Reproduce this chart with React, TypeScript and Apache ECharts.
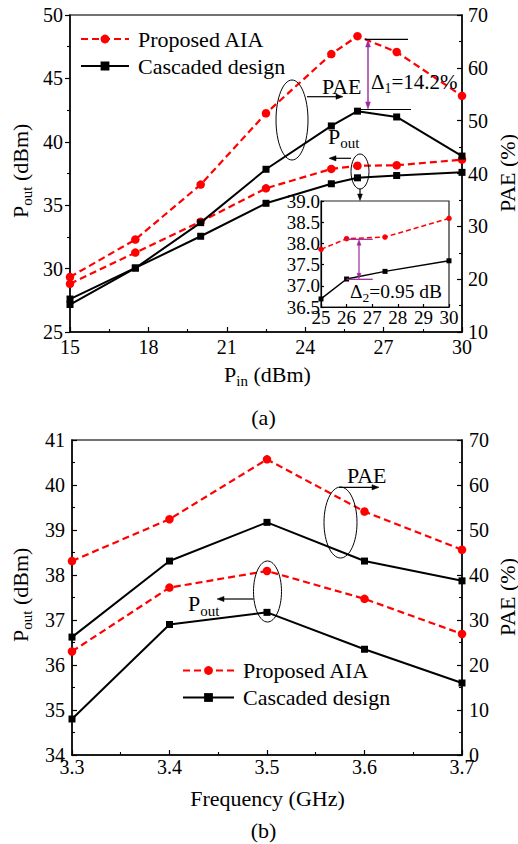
import React, { useEffect, useRef } from "react";
import * as echarts from "echarts";

// (a) output power and PAE versus input power at the centre frequency
const pinDbm = [15, 17.5, 20, 22.5, 25, 26, 27.5, 30];
const poutAiaPin = [28.8, 31.26, 33.7, 36.33, 37.86, 38.11, 38.15, 38.59];
const poutCascadedPin = [27.6, 30.05, 32.55, 35.15, 36.69, 37.16, 37.34, 37.59];
const paeAiaPin = [20.4, 27.5, 37.9, 51.4, 62.6, 66.0, 63.0, 54.7];
const paeCascadedPin = [15.2, 22.1, 30.7, 40.8, 49.0, 51.8, 50.7, 43.3];

// (b) output power and PAE versus frequency
const freqGhz = [3.3, 3.4, 3.5, 3.6, 3.7];
const poutAiaFreq = [36.3, 37.72, 38.09, 37.47, 36.69];
const poutCascadedFreq = [34.8, 36.9, 37.17, 36.35, 35.6];
const paeAiaFreq = [43.1, 52.4, 65.7, 54.1, 45.6];
const paeCascadedFreq = [26.2, 43.1, 51.7, 43.1, 38.7];

// zoomed inset of (a) starts here
const insetFrom = 25;

const seriesNames = ["Proposed AIA", "Cascaded design"];

const FONT = '"Liberation Serif", "Times New Roman", serif';
const RED = "#ff0000";
const PURPLE = "#9c2a9c";

const pairs = (xs: number[], ys: number[]) => xs.map((x, i) => [x, ys[i]]);
const insetPairs = (ys: number[]) =>
  pinDbm.map((x, i) => [x, ys[i]]).filter((p) => p[0] >= insetFrom);

function redSeries(data: number[][], xi: number, yi: number, size: number, width: number) {
  return {
    type: "line",
    name: seriesNames[0],
    data,
    xAxisIndex: xi,
    yAxisIndex: yi,
    symbol: "circle",
    symbolSize: size,
    itemStyle: { color: RED },
    lineStyle: { color: RED, width, type: [7, 4] },
    z: 3,
  };
}

function blackSeries(data: number[][], xi: number, yi: number, size: number, width: number) {
  return {
    type: "line",
    name: seriesNames[1],
    data,
    xAxisIndex: xi,
    yAxisIndex: yi,
    symbol: "rect",
    symbolSize: size,
    itemStyle: { color: "#000" },
    lineStyle: { color: "#000", width },
    z: 4,
  };
}

function valueAxis(o: any) {
  const fs = o.fontSize ?? 20;
  return {
    type: "value",
    gridIndex: o.grid,
    position: o.position,
    min: o.min,
    max: o.max,
    interval: o.interval,
    splitLine: { show: false },
    axisLine: { show: true, onZero: false, lineStyle: { color: "#000", width: o.lineWidth ?? 1.5 } },
    axisTick: { show: true, inside: o.inside, length: o.tick ?? 5, lineStyle: { color: "#000", width: 1.2 } },
    minorTick: { show: o.minor ?? true, splitNumber: 2, length: 3, lineStyle: { color: "#000", width: 1.1 } },
    axisLabel: {
      color: "#000",
      fontFamily: FONT,
      fontSize: fs,
      margin: o.margin,
      formatter: o.formatter,
    },
  };
}

function arrowHead(x: number, y: number, dx: number, dy: number, color: string, len = 7, half = 2.6) {
  const bx = x - dx * len;
  const by = y - dy * len;
  const px = -dy * half;
  const py = dx * half;
  return {
    type: "polygon",
    z: 100,
    shape: { points: [[x, y], [bx + px, by + py], [bx - px, by - py]] },
    style: { fill: color, stroke: color, lineWidth: 0.5 },
  };
}

function segment(x1: number, y1: number, x2: number, y2: number, color = "#000", w = 1.2) {
  return { type: "line", z: 100, shape: { x1, y1, x2, y2 }, style: { stroke: color, lineWidth: w } };
}

function ellipse(cx: number, cy: number, rx: number, ry: number) {
  return {
    type: "ellipse",
    z: 100,
    shape: { cx, cy, rx, ry },
    style: { fill: "none", stroke: "#000", lineWidth: 1 },
  };
}

// left-anchored text with a subscript and an optional trailing part
function subText(
  x: number,
  y: number,
  main: string,
  sub: string,
  rest: string,
  size: number,
  subSize: number,
  rotation = 0
) {
  const pad = Math.round(size * 0.62);
  return {
    type: "text",
    z: 100,
    x,
    y,
    rotation,
    style: {
      text: `{m|${main}}` + (sub ? `{s|${sub}}` : "") + (rest ? `{m|${rest}}` : ""),
      align: "left",
      verticalAlign: "middle",
      rich: {
        m: { fontSize: size, fontFamily: FONT, fill: "#000", align: "left" },
        s: { fontSize: subSize, fontFamily: FONT, fill: "#000", align: "left", padding: [pad, 0, 0, 0] },
      },
    },
  };
}

function plainText(x: number, y: number, text: string, size: number, align = "center", rotation = 0) {
  return {
    type: "text",
    z: 100,
    x,
    y,
    rotation,
    style: { text, fontSize: size, fontFamily: FONT, fill: "#000", align, verticalAlign: "middle" },
  };
}

function legendAt(left: number, top: number, itemWidth: number) {
  return {
    left,
    top,
    orient: "vertical",
    padding: 0,
    itemWidth,
    itemHeight: 11,
    itemGap: 5,
    selectedMode: false,
    data: seriesNames,
    textStyle: { fontSize: 22, fontFamily: FONT, color: "#000", padding: [0, 0, 0, 4] },
  };
}

export default function App() {
  const ref = useRef<HTMLDivElement>(null);

  useEffect(() => {
    if (!ref.current) return;
    const chart = echarts.init(ref.current, undefined, { renderer: "svg" });

    const up = Math.PI / 2;
    const graphic: any[] = [
      // ---- panel (a) ----
      ellipse(292, 120, 16, 40),
      segment(307, 96.7, 336, 96.7),
      arrowHead(343, 96.7, 1, 0, "#000"),
      plainText(322, 86, "PAE", 22, "left"),
      ellipse(360, 171.5, 9, 17.5),
      segment(351, 158.3, 336, 158.3),
      arrowHead(329, 158.3, -1, 0, "#000"),
      subText(328, 136, "P", "out", "", 22, 15),
      segment(360, 189, 360, 194),
      arrowHead(360, 200.5, 0, 1, "#000", 6.5, 2.4),
      // Δ1 bracket between the PAE peaks
      segment(365, 39.3, 408, 39.3, "#000", 1.2),
      segment(358, 109.5, 411, 109.5, "#000", 1.2),
      segment(368, 46, 368, 103, PURPLE, 1.4),
      arrowHead(368, 40, 0, -1, PURPLE, 7, 2.4),
      arrowHead(368, 109, 0, 1, PURPLE, 7, 2.4),
      subText(371, 81.5, "\u0394", "1", "=14.2%", 21, 14),
      // Δ2 bracket inside the inset
      segment(346.5, 239.3, 372.7, 239.3, PURPLE, 1.3),
      segment(346.5, 279.3, 372.7, 279.3, PURPLE, 1.3),
      segment(359, 244, 359, 274.5, PURPLE, 1.2),
      arrowHead(359, 239.8, 0, -1, PURPLE, 5.5, 2),
      arrowHead(359, 278.8, 0, 1, PURPLE, 5.5, 2),
      subText(350, 291, "\u0394", "2", "=0.95 dB", 19.5, 13.5),
      // axis titles (a)
      subText(20, 218, "P", "out", " (dBm)", 22, 15, up),
      plainText(507, 173, "PAE (%)", 22, "center", up),
      subText(224, 374, "P", "in", " (dBm)", 22, 15),
      plainText(263.5, 417, "(a)", 22, "center"),

      // ---- panel (b) ----
      ellipse(340.5, 522.5, 16.5, 35.5),
      segment(339, 487.3, 372, 487.3),
      arrowHead(379, 487.3, 1, 0, "#000"),
      plainText(347, 475.5, "PAE", 22, "left"),
      ellipse(267.5, 591.5, 14, 30.5),
      segment(253.5, 599, 224, 599),
      arrowHead(217, 599, -1, 0, "#000"),
      subText(188, 603.5, "P", "out", "", 22, 15),
      subText(20, 642, "P", "out", " (dBm)", 22, 15, up),
      plainText(507, 597, "PAE (%)", 22, "center", up),
      plainText(267.5, 798.5, "Frequency (GHz)", 22, "center"),
      plainText(263.5, 830, "(b)", 22, "center"),
    ];

    chart.setOption({
      animation: false,
      backgroundColor: "#fff",
      textStyle: { fontFamily: FONT },
      grid: [
        { left: 70, top: 15, width: 392, height: 317, show: true, borderColor: "#444", borderWidth: 1.5, backgroundColor: "transparent" },
        { left: 321, top: 201, width: 128, height: 106, show: true, borderColor: "#222", borderWidth: 1.2, backgroundColor: "#fff", z: 5 },
        { left: 72, top: 440, width: 390, height: 315, show: true, borderColor: "#444", borderWidth: 1.5, backgroundColor: "transparent" },
      ],
      xAxis: [
        valueAxis({ grid: 0, position: "bottom", min: 15, max: 30, interval: 3, inside: true, margin: 5 }),
        { ...valueAxis({ grid: 1, position: "bottom", min: 25, max: 30, interval: 1, inside: true, tick: 3, minor: false, fontSize: 19, margin: 1, lineWidth: 1.2 }), z: 6 },
        valueAxis({ grid: 2, position: "bottom", min: 3.3, max: 3.7, interval: 0.1, inside: true, margin: 2, formatter: (v: number) => v.toFixed(1) }),
      ],
      yAxis: [
        valueAxis({ grid: 0, position: "left", min: 25, max: 50, interval: 5, inside: false, margin: 7 }),
        valueAxis({ grid: 0, position: "right", min: 10, max: 70, interval: 10, inside: true, margin: 6 }),
        { ...valueAxis({ grid: 1, position: "left", min: 36.5, max: 39, interval: 0.5, inside: true, tick: 3, minor: false, fontSize: 19, margin: 1, lineWidth: 1.2, formatter: (v: number) => v.toFixed(1) }), z: 6 },
        valueAxis({ grid: 2, position: "left", min: 34, max: 41, interval: 1, inside: true, margin: 7 }),
        valueAxis({ grid: 2, position: "right", min: 0, max: 70, interval: 10, inside: true, margin: 7 }),
      ],
      legend: [legendAt(80, 28, 48), legendAt(182, 659.5, 51)],
      series: [
        // (a)
        redSeries(pairs(pinDbm, paeAiaPin), 0, 1, 8.5, 2.2),
        blackSeries(pairs(pinDbm, paeCascadedPin), 0, 1, 7, 2),
        redSeries(pairs(pinDbm, poutAiaPin), 0, 0, 8.5, 2.2),
        blackSeries(pairs(pinDbm, poutCascadedPin), 0, 0, 7, 2),
        // inset
        { ...redSeries(insetPairs(poutAiaPin), 1, 2, 5.5, 1.5), lineStyle: { color: RED, width: 1.5, type: [5, 3] }, z: 7 },
        { ...blackSeries(insetPairs(poutCascadedPin), 1, 2, 5, 1.5), z: 8 },
        // (b)
        redSeries(pairs(freqGhz, paeAiaFreq), 2, 4, 8.5, 2.2),
        blackSeries(pairs(freqGhz, paeCascadedFreq), 2, 4, 7, 2),
        redSeries(pairs(freqGhz, poutAiaFreq), 2, 3, 8.5, 2.2),
        blackSeries(pairs(freqGhz, poutCascadedFreq), 2, 3, 7, 2),
      ],
      graphic,
    });

    return () => chart.dispose();
  }, []);

  return (
    <div
      ref={ref}
      style={{ position: "fixed", left: 0, top: 0, width: 518, height: 844, background: "#fff" }}
    />
  );
}
